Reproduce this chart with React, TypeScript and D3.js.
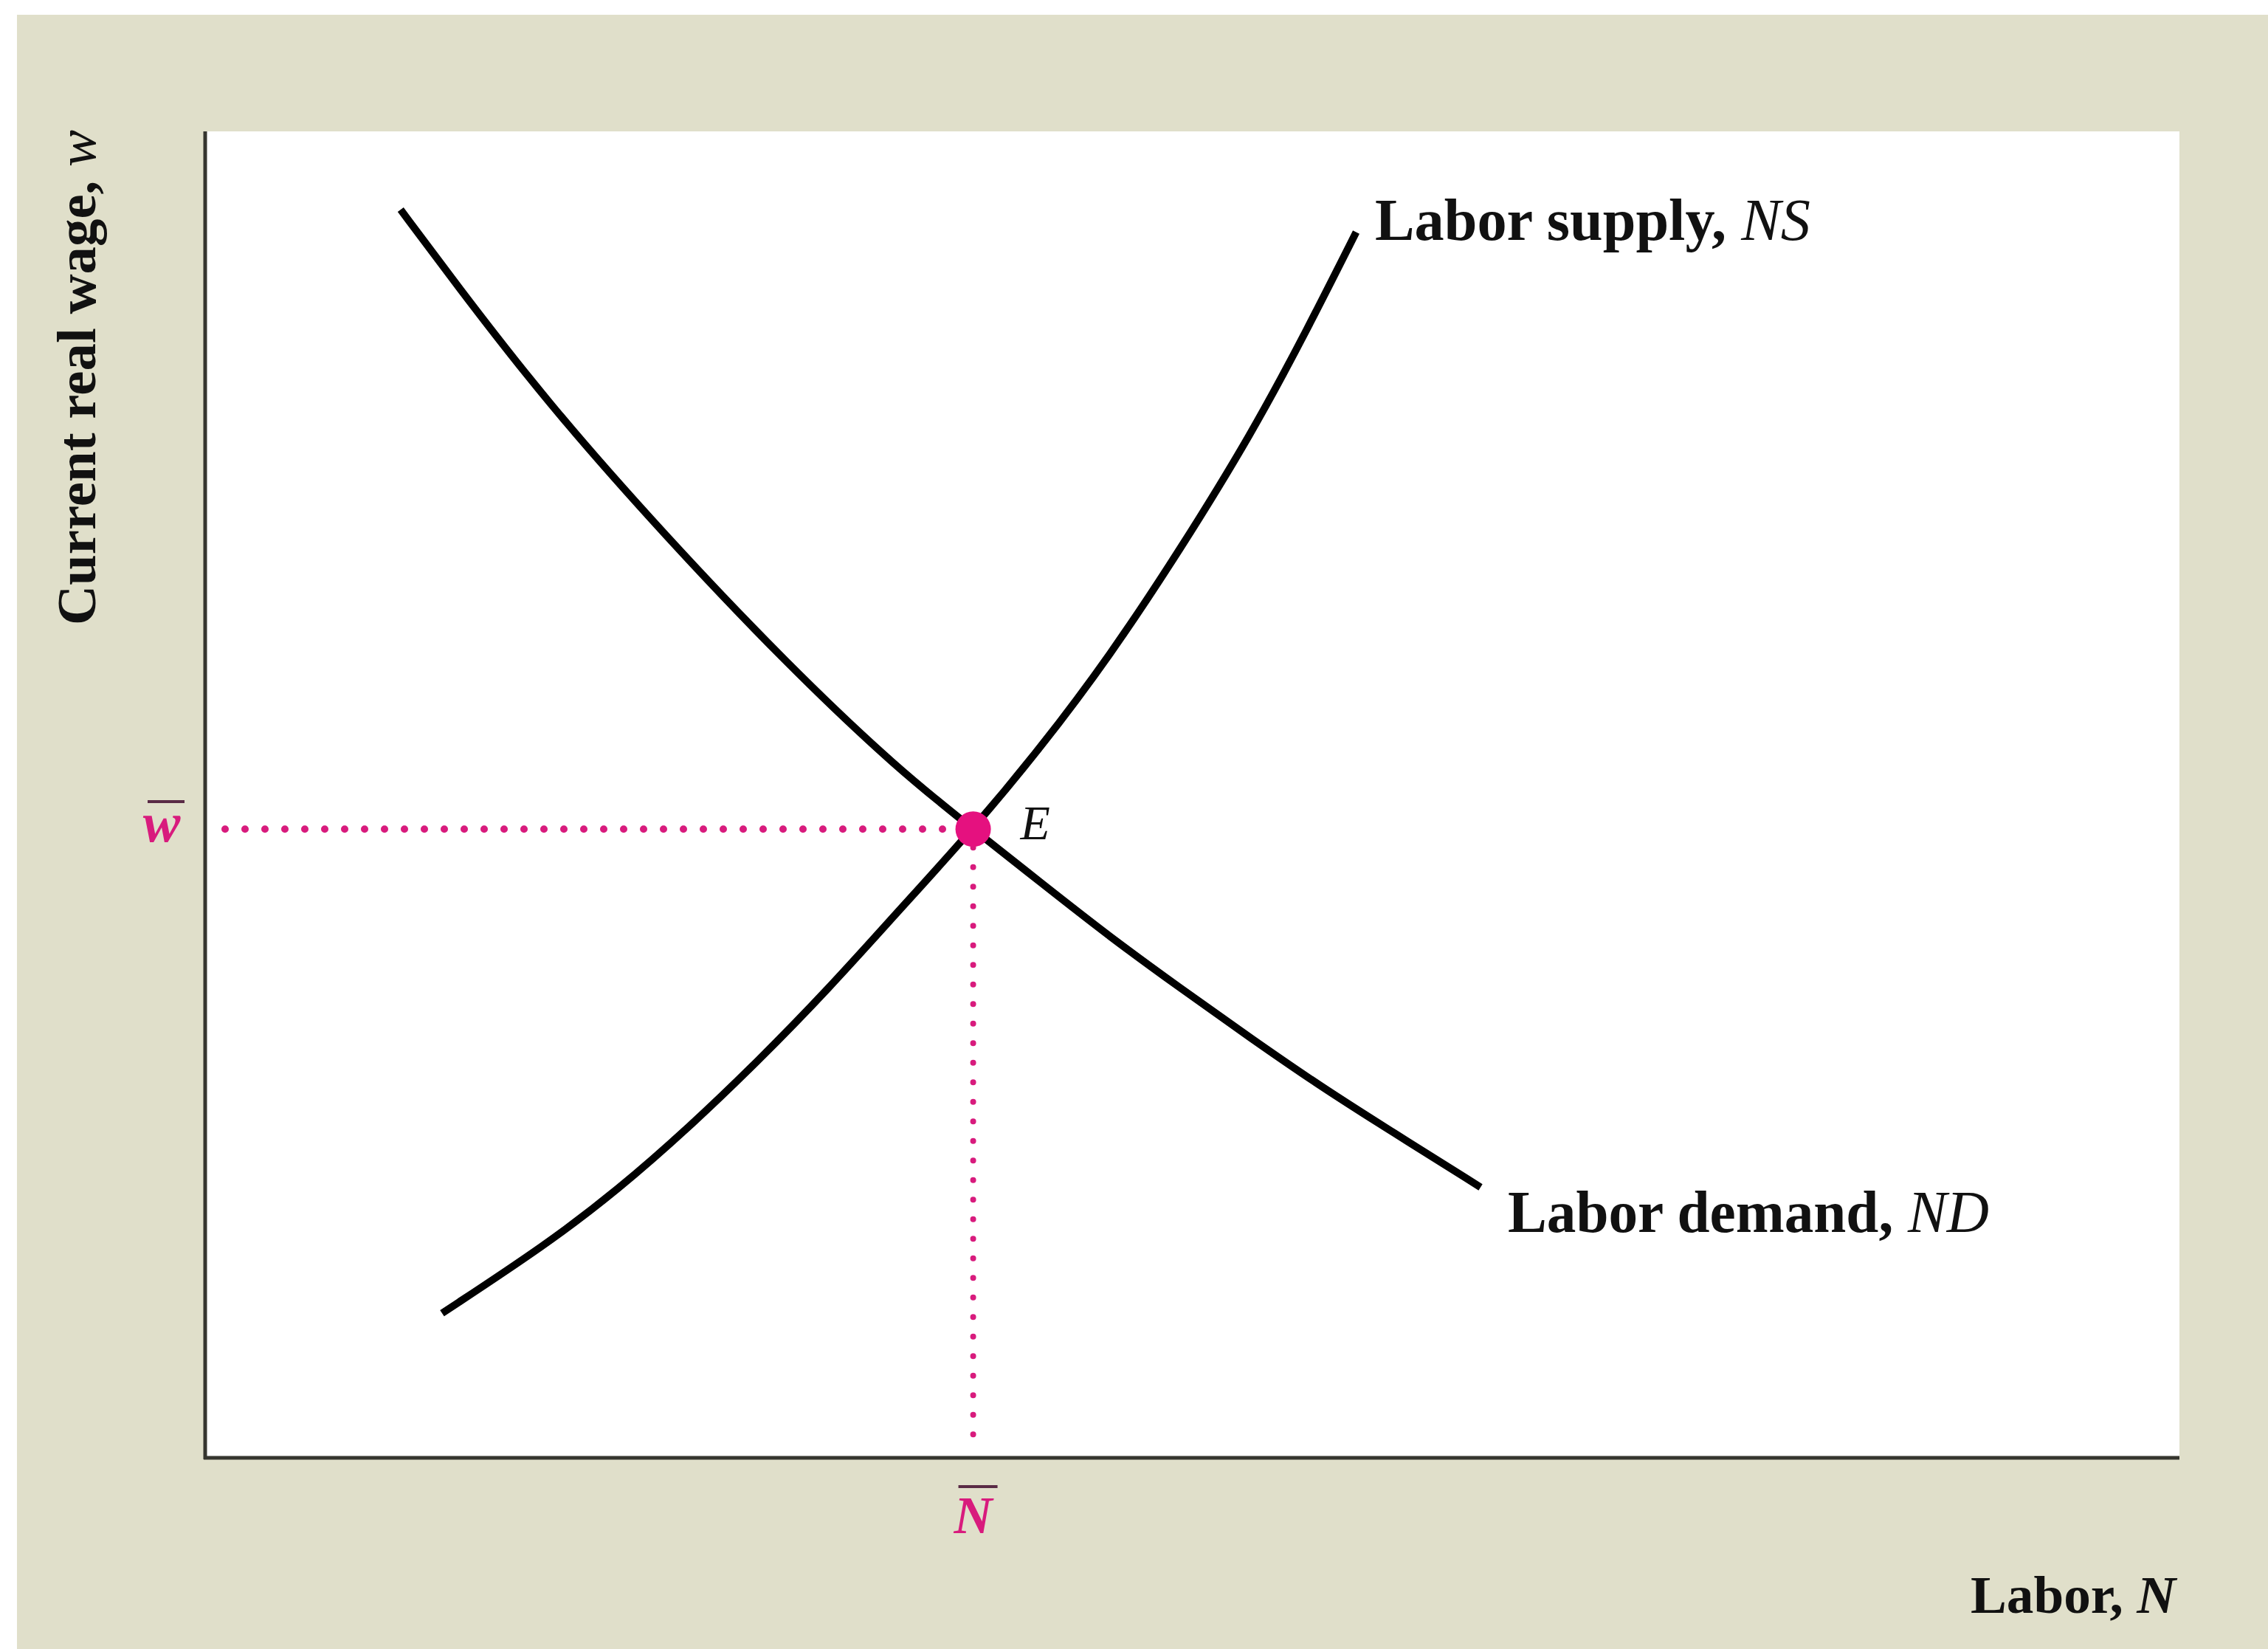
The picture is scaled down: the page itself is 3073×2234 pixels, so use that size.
import React from "react";
import * as d3 from "d3";

// Labor demand curve ND: (labor N, real wage w)
const demandN = [9.9, 12.6, 17.3, 23.3, 29.5, 35.1, 38.9, 42.3, 45.8, 49.4, 53.0, 56.5, 60.1, 64.6];
const demandW = [94.1, 88.7, 79.6, 69.5, 59.8, 51.9, 47.4, 43.4, 39.3, 35.4, 31.6, 28.0, 24.6, 20.4];

// Labor supply curve NS
const supplyN = [12.0, 17.3, 20.9, 24.5, 28.0, 31.6, 35.1, 38.9, 42.3, 45.8, 49.4, 53.0, 55.8, 58.3];
const supplyW = [10.9, 16.1, 20.2, 24.9, 29.9, 35.4, 41.2, 47.4, 53.5, 60.4, 68.5, 77.2, 85.0, 92.4];

// Equilibrium E
const eqN = 38.9;
const eqW = 47.4;

const W = 3073;
const H = 2234;
const plot = { left: 278, right: 2953, top: 178, bottom: 1975 };
const BEIGE = "#e0dfca";
const PINK = "#d81b7d";
const FONT = "'Liberation Serif', 'Times New Roman', serif";

export default function App() {
  const x = d3.scaleLinear().domain([0, 100]).range([plot.left, plot.right]);
  const y = d3.scaleLinear().domain([0, 100]).range([plot.bottom, plot.top]);
  const line = d3
    .line<[number, number]>()
    .x((d) => x(d[0]))
    .y((d) => y(d[1]))
    .curve(d3.curveBasis);
  const demand = demandN.map((n, i) => [n, demandW[i]] as [number, number]);
  const supply = supplyN.map((n, i) => [n, supplyW[i]] as [number, number]);
  const ex = x(eqN);
  const ey = y(eqW);

  return (
    <svg
      width={W}
      height={H}
      style={{ position: "absolute", left: 0, top: 0, background: "#ffffff" }}
      fontFamily={FONT}
    >
      <rect x={23} y={20} width={W - 23} height={H - 20} fill={BEIGE} />
      <rect
        x={plot.left}
        y={plot.top}
        width={plot.right - plot.left}
        height={plot.bottom - plot.top}
        fill="#ffffff"
      />
      {/* axes */}
      <line x1={plot.left} y1={plot.top} x2={plot.left} y2={plot.bottom + 2} stroke="#35352f" strokeWidth={5} />
      <line x1={plot.left - 2} y1={plot.bottom} x2={plot.right} y2={plot.bottom} stroke="#35352f" strokeWidth={5} />

      {/* dotted guides */}
      <line
        x1={305}
        y1={ey}
        x2={ex - 20}
        y2={ey}
        stroke={PINK}
        strokeWidth={10}
        strokeLinecap="round"
        strokeDasharray="0 27"
      />
      <line
        x1={ex}
        y1={ey + 25}
        x2={ex}
        y2={plot.bottom - 25}
        stroke={PINK}
        strokeWidth={8}
        strokeLinecap="round"
        strokeDasharray="0 26.5"
      />

      {/* curves */}
      <path d={line(demand) || ""} fill="none" stroke="#000" strokeWidth={10} />
      <path d={line(supply) || ""} fill="none" stroke="#000" strokeWidth={10} />

      {/* equilibrium */}
      <circle cx={ex} cy={ey} r={24} fill="#e5117f" />
      <text x={ex + 64} y={ey + 14} fontSize={66} fontStyle="italic" fill="#111">
        E
      </text>

      {/* curve labels */}
      <text x={1863} y={325} fontSize={80} fontWeight="bold" fill="#111" textLength={590} lengthAdjust="spacingAndGlyphs">
        Labor supply,{" "}
        <tspan fontStyle="italic" fontWeight="normal">NS</tspan>
      </text>
      <text x={2043} y={1669} fontSize={80} fontWeight="bold" fill="#111" textLength={652} lengthAdjust="spacingAndGlyphs">
        Labor demand,{" "}
        <tspan fontStyle="italic" fontWeight="normal">ND</tspan>
      </text>

      {/* axis titles */}
      <text x={2670} y={2185} fontSize={72} fontWeight="bold" fill="#111" textLength={278} lengthAdjust="spacingAndGlyphs">
        Labor, <tspan fontStyle="italic">N</tspan>
      </text>
      <text
        transform="translate(129,847) rotate(-90)"
        x={0}
        y={0}
        fontSize={74}
        fontWeight="bold"
        fill="#111"
        textLength={671}
        lengthAdjust="spacingAndGlyphs"
      >
        Current real wage, <tspan fontStyle="italic" fontWeight="normal">w</tspan>
      </text>

      {/* w-bar and N-bar */}
      <line x1={200} y1={1086} x2={250} y2={1086} stroke="#5a2b46" strokeWidth={4} />
      <text x={219} y={1140} fontSize={76} fontStyle="italic" fontWeight="bold" fill={PINK} textAnchor="middle">
        w
      </text>
      <line x1={ex - 20} y1={2014} x2={ex + 33} y2={2014} stroke="#5a2b46" strokeWidth={4} />
      <text x={ex} y={2077} fontSize={72} fontStyle="italic" fontWeight="bold" fill={PINK} textAnchor="middle">
        N
      </text>
    </svg>
  );
}
